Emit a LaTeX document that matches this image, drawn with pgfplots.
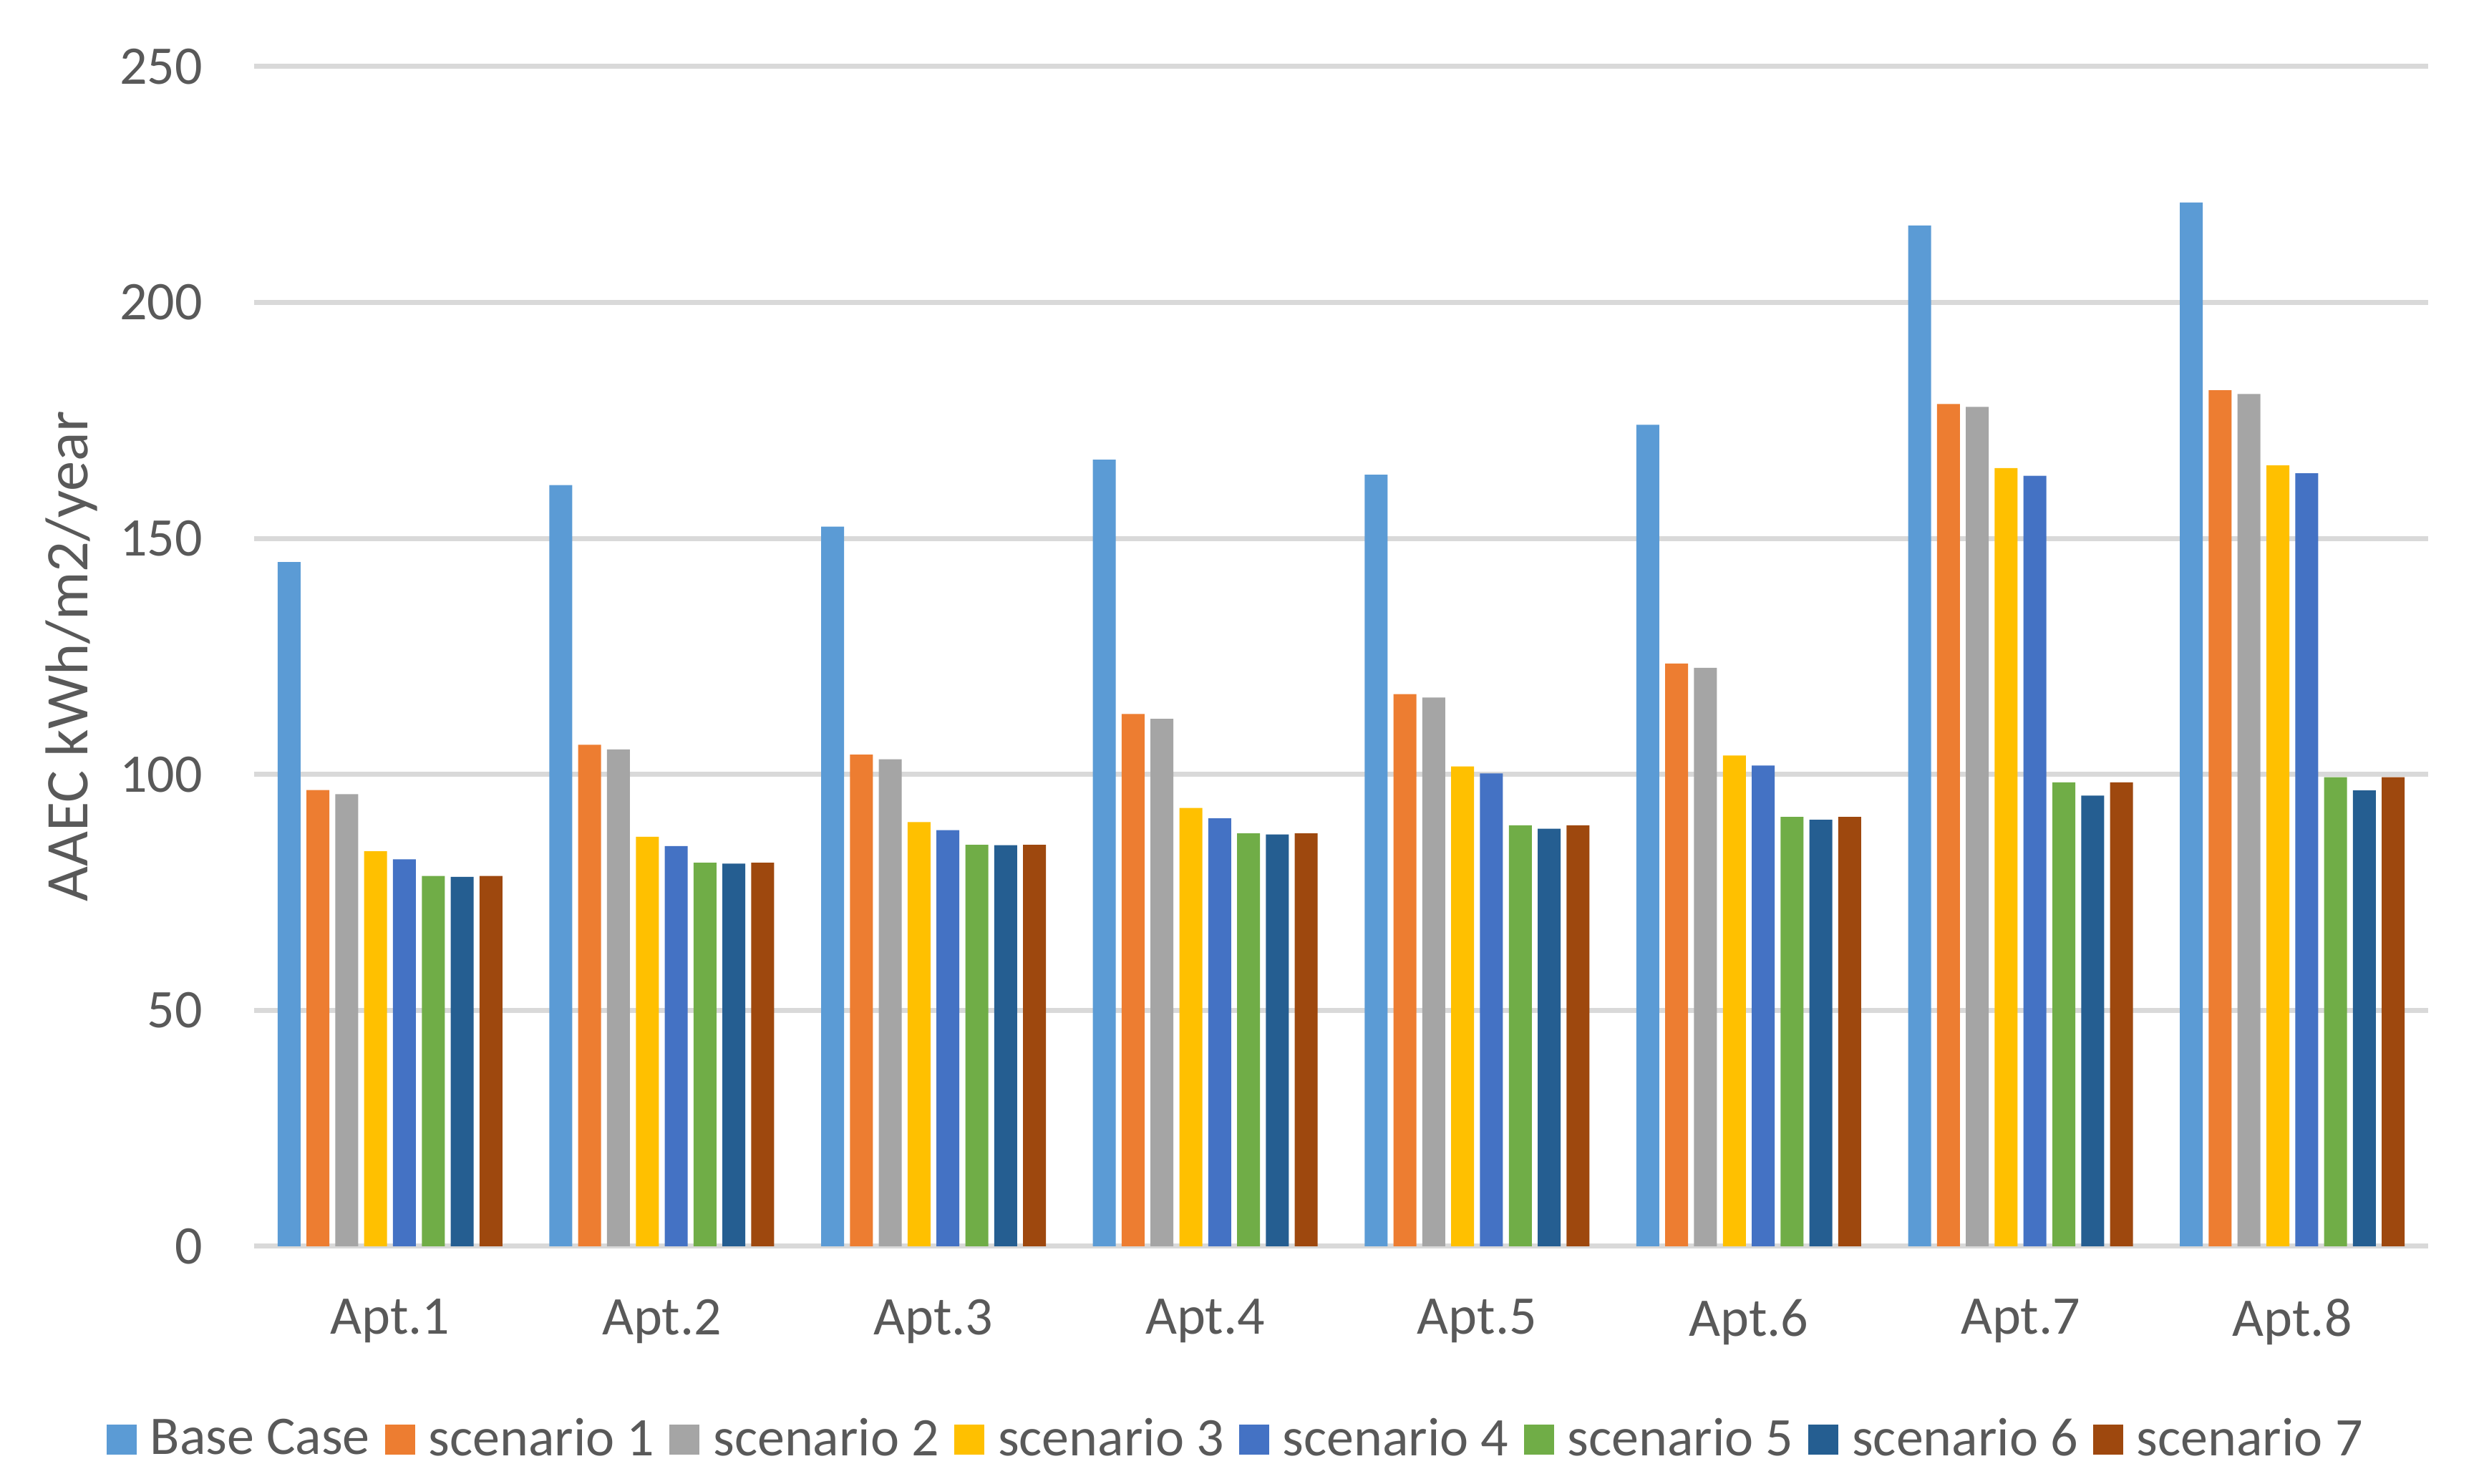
\documentclass[border=0pt]{standalone}
\usepackage{fontspec}
\setmainfont{Carlito}
\usepackage{pgfplots}
\usepackage{pgfplotstable}
\pgfplotsset{compat=1.18}

\definecolor{cbase}{HTML}{5B9BD5}
\definecolor{cone}{HTML}{ED7D31}
\definecolor{ctwo}{HTML}{A5A5A5}
\definecolor{cthree}{HTML}{FFC000}
\definecolor{cfour}{HTML}{4472C4}
\definecolor{cfive}{HTML}{70AD47}
\definecolor{csix}{HTML}{255E91}
\definecolor{cseven}{HTML}{9E480E}
\definecolor{gridgray}{HTML}{D9D9D9}
\definecolor{txt}{HTML}{595959}

% AAEC per apartment (x = 0..7 for Apt.1..Apt.8)
\pgfplotstableread{
x  base   s1     s2     s3     s4     s5    s6    s7
0  145.0  96.7   95.8   83.7   82.0   78.5  78.3  78.5
1  161.3  106.3  105.3  86.8   84.8   81.3  81.1  81.3
2  152.5  104.2  103.2  89.9   88.2   85.1  85.0  85.1
3  166.7  112.8  111.8  92.9   90.7   87.5  87.3  87.5
4  163.5  117.0  116.3  101.7  100.2  89.2  88.5  89.2
5  174.1  123.5  122.6  104.0  101.9  91.0  90.4  91.0
6  216.3  178.5  177.9  164.9  163.3  98.3  95.5  98.3
7  221.2  181.4  180.6  165.5  163.8  99.4  96.6  99.4
}\aaec

\pgfplotsset{
  mybar/.style={fill=#1, draw=none,
    legend image code/.code={\fill[#1] (0pt,-4.2pt) rectangle (8.4pt,4.2pt);}},
}

\begin{document}
\begin{tikzpicture}
\begin{axis}[
    name=ax,
    scale only axis,
    width=607.4pt, height=329.6pt,
    ybar=1.66pt,
    bar width=6.4pt,
    xmin=-0.5, xmax=7.5,
    ymin=0, ymax=250,
    ytick={0,50,...,250},
    xtick={0,...,7},
    xticklabels={Apt.1,Apt.2,Apt.3,Apt.4,Apt.5,Apt.6,Apt.7,Apt.8},
    major tick length=0pt,
    axis line style={draw=none},
    ymajorgrids,
    grid style={draw=gridgray, line width=1.4pt},
    /pgf/number format/assume math mode=true,
    tick label style={font=\fontsize{15.2}{18}\selectfont, text=txt},
    xticklabel style={anchor=north, inner sep=0pt, yshift=-14.6pt},
    yticklabel style={anchor=east, inner sep=0pt, xshift=-14.2pt},
    ylabel={AAEC kWh/m2/year},
    ylabel style={font=\fontsize{16.9}{20}\selectfont, text=txt,
      at={([xshift=-51.1pt]axis description cs:0,0.5)}, anchor=center, rotate=0},
    legend columns=8,
    legend style={draw=none, fill=none, inner sep=0pt,
      at={(0.451,-0.1638)}, anchor=center,
      font=\fontsize{15.2}{18}\selectfont, text=txt,
      nodes={inner sep=0pt},
      /tikz/every odd column/.append style={column sep=3.8pt},
      /tikz/every even column/.append style={column sep=4.2pt}},
]
\addplot[mybar=cbase]  table[x=x, y=base] {\aaec};
\addplot[mybar=cone]   table[x=x, y=s1]   {\aaec};
\addplot[mybar=ctwo]   table[x=x, y=s2]   {\aaec};
\addplot[mybar=cthree] table[x=x, y=s3]   {\aaec};
\addplot[mybar=cfour]  table[x=x, y=s4]   {\aaec};
\addplot[mybar=cfive]  table[x=x, y=s5]   {\aaec};
\addplot[mybar=csix]   table[x=x, y=s6]   {\aaec};
\addplot[mybar=cseven] table[x=x, y=s7]   {\aaec};
\legend{Base Case, scenario 1, scenario 2, scenario 3, scenario 4, scenario 5, scenario 6, scenario 7}
\end{axis}
\pgfresetboundingbox
\path[use as bounding box] ([shift={(-71pt,-66.4pt)}]ax.south west) rectangle ++(694pt,414.6pt);
\end{tikzpicture}
\end{document}
